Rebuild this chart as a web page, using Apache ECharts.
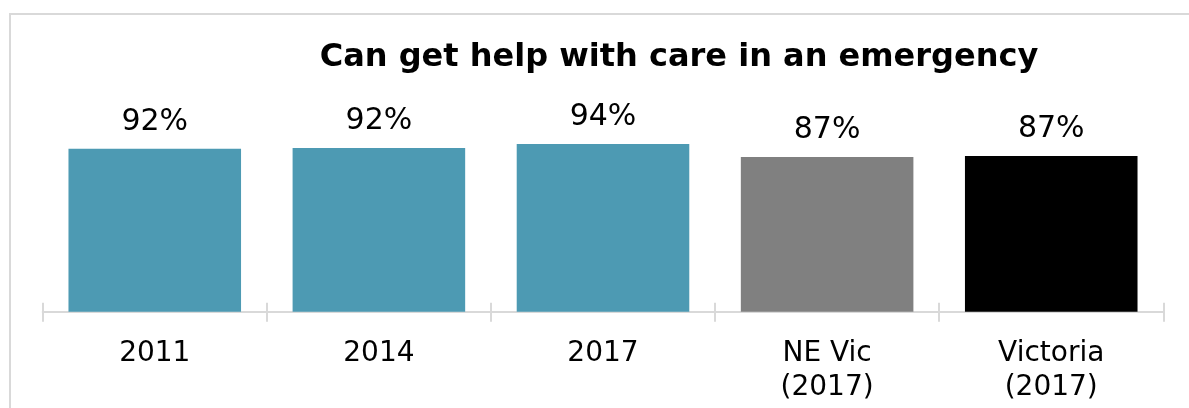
<!DOCTYPE html>
<html>
<head>
<meta charset="utf-8">
<script src="https://cdn.jsdelivr.net/npm/echarts@6/dist/echarts.min.js"></script>
<style>
  html, body { margin: 0; padding: 0; background: #fff; }
  #care-chart { width: 1189px; height: 408px; }
</style>
</head>
<body>
<div id="care-chart"></div>
<script>
// values
var categories = ['2011', '2014', '2017', 'NE Vic\n(2017)', 'Victoria\n(2017)'];
var shares = [91.3, 91.8, 94.0, 86.7, 87.3];
var shareLabels = ['92%', '92%', '94%', '87%', '87%'];
var barColors = ['#4d9ab3', '#4d9ab3', '#4d9ab3', '#808080', '#000000'];

function careChart() {
    var chart = echarts.init(document.getElementById('care-chart'));
    var font = 'DejaVu Sans, Verdana, sans-serif';

    var barData = shares.map(function (v, i) {
        return { value: v, itemStyle: { color: barColors[i] } };
    });

    var option = {
        animation: false,
        title: {
            text: 'Can get help with care in an emergency',
            left: 674,
            top: 37,
            textAlign: 'center',
            textStyle: { fontFamily: font, fontWeight: 'bold', fontSize: 32, color: '#000' }
        },
        graphic: [{
            type: 'rect',
            shape: { x: 10, y: 14, width: 1200, height: 500 },
            style: { fill: 'none', stroke: '#d9d9d9', lineWidth: 2 },
            silent: true
        }],
        grid: { left: 42.7, right: 25.7, top: 133.3, bottom: 96.3 },
        xAxis: [{
            type: 'category',
            data: categories,
            axisLine: { lineStyle: { color: '#d9d9d9', width: 2 } },
            axisTick: { show: true, interval: 0, length: 10, lineStyle: { color: '#d9d9d9', width: 2 } },
            axisLabel: { fontFamily: font, fontSize: 28, color: '#000', lineHeight: 34, margin: 25 }
        }, {
            // second axis only for the ticks that cross the axis line upwards
            type: 'category',
            data: categories,
            position: 'bottom',
            axisLine: { show: false },
            axisTick: { show: true, interval: 0, inside: true, length: 9, lineStyle: { color: '#d9d9d9', width: 2 } },
            axisLabel: { show: false }
        }],
        yAxis: { type: 'value', min: 0, max: 100, show: false, splitLine: { show: false } },
        series: [{
            type: 'bar',
            data: barData,
            barWidth: '77%',
            label: {
                show: true,
                position: 'top',
                distance: 12,
                fontFamily: font,
                fontSize: 30,
                color: '#000',
                formatter: function (p) { return shareLabels[p.dataIndex]; }
            }
        }]
    };

    option && chart.setOption(option);
}
careChart();
</script>
</body>
</html>
